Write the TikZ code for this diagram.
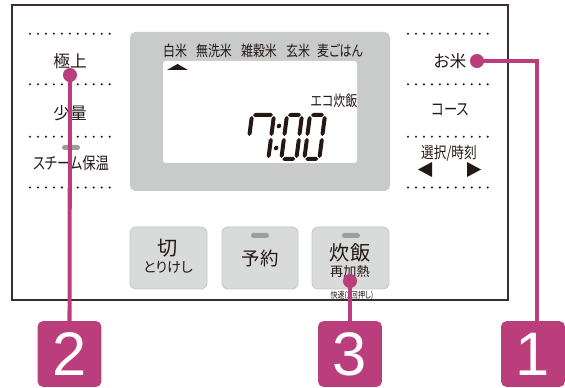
\documentclass[tikz,border=0pt]{standalone}
\usepackage{fontspec}
\usepackage{graphicx}
\setmainfont{Noto Sans CJK JP}[RawFeature=+palt]
\newfontfamily\numfont{Liberation Sans}
\usetikzlibrary{positioning}
\definecolor{pmag}{RGB}{186,62,124}
\definecolor{inkblack}{RGB}{35,24,21}
\definecolor{framebrown}{RGB}{60,45,45}
\definecolor{lcdgrey}{RGB}{201,202,202}
\definecolor{keygrey}{RGB}{217,218,218}
\definecolor{keyedge}{RGB}{198,199,199}
\definecolor{lampgrey}{RGB}{158,158,158}
\tikzset{
  dotrow/.style={draw=inkblack, line width=1.3pt, line cap=round, dash pattern=on 0pt off 4.535pt},
  sidelabel/.style={text=inkblack, inner sep=0pt, font=\fontsize{9.5}{10}\selectfont},
  lcdlabel/.style={text=inkblack, inner sep=0pt, font=\fontsize{8.5}{9}\selectfont},
  keytext/.style={text=inkblack, inner sep=0pt},
  keybox/.style={fill=keygrey, draw=keyedge, line width=0.5pt, rounded corners=3.5pt},
  keylamp/.style={fill=lampgrey, rounded corners=1pt},
  calloutline/.style={draw=pmag, line width=2.3pt},
  calloutdot/.style={circle, fill=pmag, inner sep=0pt, minimum size=8pt},
  calloutbox/.style={fill=pmag, rounded corners=3pt, text=white, inner sep=0pt,
    minimum width=36.3pt, minimum height=37.4pt, font=\numfont\fontsize{35}{35}\selectfont}
}
\newcommand{\narrow}[1]{\scalebox{0.8}[1]{#1}}
\newcommand{\hseg}[3]{\fill (#1,#3) -- (#1+2,#3+2) -- (#2-2,#3+2) -- (#2,#3) -- (#2-2,#3-2) -- (#1+2,#3-2) -- cycle;}
\newcommand{\vseg}[3]{\fill (#3,#1) -- (#3+2,#1+2) -- (#3+2,#2-2) -- (#3,#2) -- (#3-2,#2-2) -- (#3-2,#1+2) -- cycle;}
\newcommand{\segzero}[1]{\hseg{#1+1}{#1+14}{44}\vseg{23}{43}{#1+15}\vseg{1}{21}{#1+15}%
  \hseg{#1+1}{#1+14}{0}\vseg{1}{21}{#1}\vseg{23}{43}{#1}}
\newcommand{\segseven}[1]{\hseg{#1+1}{#1+21}{44}\vseg{23}{43}{#1+22}\vseg{1}{21}{#1+22}\vseg{23}{43}{#1}}

\begin{document}
\begin{tikzpicture}[x=0.02cm, y=-0.02cm]
  \useasboundingbox (0,0) rectangle (565,388);

  \draw[framebrown, line width=0.85pt] (12,5) rectangle (508,300);

  \foreach \y in {33.7,84.3,136.7,187.5} {
    \draw[dotrow] (30,\y) -- (110,\y);
    \draw[dotrow] (408,\y) -- (488,\y);
  }

  \node[sidelabel] (gokujo) at (70,61) {極上};
  \node[sidelabel] (shoryo) at (70,113) {少量};
  \fill[keylamp] (62,145) rectangle (80,150);
  \node[sidelabel, font=\fontsize{9.5}{10}\selectfont] (steam) at (71,163) {\narrow{スチーム保温}};

  \node[sidelabel] (okome) at (450,61) {お米};
  \node[sidelabel] (course) at (450,110) {\narrow{コース}};
  \node[sidelabel, font=\fontsize{9}{10}\selectfont] (sentaku) at (449,153) {\narrow{選択/時刻}};
  \fill[inkblack] (418,169.5) -- (432,162) -- (432,177) -- cycle;
  \fill[inkblack] (481,169.5) -- (467,162) -- (467,177) -- cycle;

  \fill[lcdgrey, rounded corners=3pt] (130,32) rectangle (390,191);
  \fill[white, rounded corners=1.5pt] (163,61) rectangle (357,163);
  \node[lcdlabel] (hakumai) at (175,51) {\narrow{白米}};
  \node[lcdlabel] (musenmai) at (214,51) {\narrow{無洗米}};
  \node[lcdlabel] (zakkoku) at (259,51) {\narrow{雑穀米}};
  \node[lcdlabel] (genmai) at (298,51) {\narrow{玄米}};
  \node[lcdlabel] (mugi) at (340,51) {\narrow{麦ごはん}};
  \fill[inkblack] (167,70) -- (177.5,64) -- (188,70) -- cycle;
  \node[lcdlabel] (eco) at (334,101) {\narrow{エコ炊飯}};

  \begin{scope}[shift={(246.3,159)}, y=0.02cm, xslant=0.13, fill=inkblack]
    \segseven{0}
    \fill (28.4,33) circle (2.3);
    \fill (28.4,11) circle (2.3);
    \segzero{35}
    \segzero{58}
  \end{scope}

  \draw[keybox] (130,227) rectangle (207,289);
  \draw[keybox] (222,227) rectangle (298,289);
  \draw[keybox] (312,227) rectangle (389,289);
  \fill[keylamp] (251,233) rectangle (269,238);
  \fill[keylamp] (342,233) rectangle (360,238);
  \node[keytext, font=\fontsize{11.5}{12}\selectfont] (kiri) at (168,248) {切};
  \node[keytext, font=\fontsize{8}{9}\selectfont] (torikeshi) at (168,267) {とりけし};
  \node[keytext, font=\fontsize{10.5}{11}\selectfont] (yoyaku) at (260,258) {予約};
  \node[keytext, font=\fontsize{11.5}{12}\selectfont] (suihan) at (350,253) {炊飯};
  \node[keytext, font=\fontsize{7.5}{8}\selectfont] (saikanetsu) at (350,272) {再加熱};
  \node[keytext, font=\fontsize{5}{5.5}\selectfont] (kaisoku) at (352,296) {\narrow{快速(2回押し)}};

  \node[calloutdot] (dot1) at (477,61) {};
  \node[calloutdot] (dot2) at (70,75) {};
  \node[calloutdot] (dot3) at (350,281) {};
  \node[calloutbox] (box1) at (533,354) {1};
  \node[calloutbox] (box2) at (69.5,354) {2};
  \node[calloutbox] (box3) at (350,354) {3};
  \coordinate (bend1) at (537,61);
  \draw[calloutline] (dot1.center) -- (bend1) -- (bend1 |- box1.north);
  \draw[calloutline] (dot2.center) -- (box2.north);
  \draw[calloutline] (dot3.center) -- (box3.north);
\end{tikzpicture}
\end{document}
